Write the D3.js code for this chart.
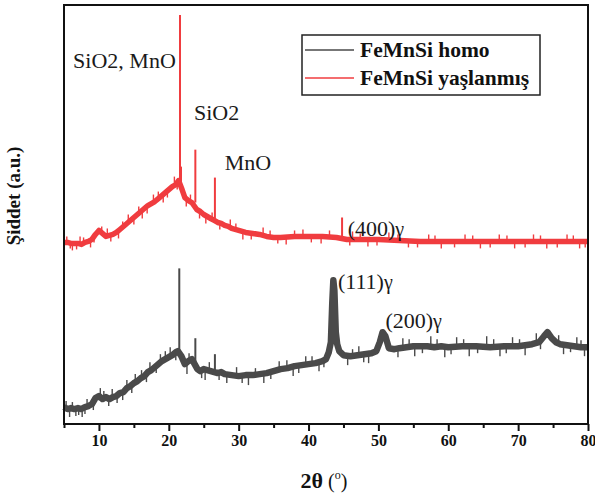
<!DOCTYPE html>
<html>
<head>
<meta charset="utf-8">
<script src="https://cdn.jsdelivr.net/npm/d3@7"></script>
<style>
  body { margin: 0; background: #fff; }
  svg { display: block; }
  text { font-family: "Liberation Serif", "Times New Roman", serif; }
</style>
</head>
<body>
<div id="chart"></div>
<script>
// XRD patterns, 2θ (deg) and intensity (a.u.)
const homoTheta = [5, 5.5, 6, 6.5, 7, 7.5, 8, 8.5, 9, 9.5, 10, 10.5, 11, 11.5, 12, 12.5, 13, 13.5, 14, 14.5,
  15, 15.5, 16, 16.5, 17, 17.5, 18, 18.5, 19, 19.5, 20, 20.5, 21, 21.3, 21.8, 22.3, 22.8, 23.3, 24.1, 24.5,
  25, 25.5, 26, 26.5, 27, 27.5, 28, 29, 30, 31, 32, 33, 34, 35, 36, 37, 38, 39, 40, 41,
  42, 42.5, 42.9, 43.2, 43.4, 43.55, 43.7, 43.9, 44.1, 44.4, 45, 46, 47, 48, 49, 49.7, 50.2, 50.6, 51.0, 51.5,
  52.3, 53, 54, 55, 56, 57, 58, 59, 60, 62, 64, 66, 68, 70, 72, 73, 73.7, 74.2, 74.8, 75.4,
  76, 77, 78, 79, 80];
const homoValue = [17, 15, 16, 15, 16, 15, 17, 18, 20, 26, 28, 25, 27, 25, 27, 28, 31, 32, 36, 38,
  41, 43, 46, 48, 52, 54, 57, 60, 63, 65, 67, 69, 72, 73, 68, 60, 63, 65, 55, 53,
  55, 54, 53, 52, 51, 52, 50, 49, 48, 49, 49, 50, 51, 53, 55, 56, 58, 59, 60, 61,
  63, 65, 72, 82, 122, 144, 134, 92, 80, 73, 69, 68, 69, 70, 71, 73, 82, 92, 88, 76,
  75, 76, 77, 78, 78, 78, 77, 78, 77, 78, 78, 77, 78, 78, 80, 82, 88, 92, 86, 82,
  80, 79, 78, 77, 77];

const agedTheta = [5, 5.5, 6, 6.5, 7, 7.5, 8, 8.5, 9, 9.5, 10, 10.5, 11, 11.5, 12, 12.5, 13, 13.5, 14, 14.5,
  15, 15.5, 16, 16.5, 17, 17.5, 18, 18.5, 19, 19.5, 20, 20.5, 21, 21.4, 21.9, 22.3, 22.8, 23.3, 24.0, 24.5,
  25, 25.5, 26, 26.5, 27, 27.5, 28, 28.5, 29, 30, 31, 32, 33, 34, 35, 36, 38, 40, 42, 44,
  45.5, 47, 50, 53, 56, 60, 65, 70, 75, 80];
const agedValue = [182, 182, 181, 181, 181, 180, 182, 183, 185, 190, 194, 191, 188, 189, 190, 192, 195, 198, 201, 204,
  207, 210, 213, 216, 219, 221, 223, 226, 229, 232, 235, 238, 240, 244, 235, 227, 224, 222, 215, 213,
  210, 208, 206, 204, 202, 201, 199, 198, 196, 194, 192, 191, 190, 188, 187, 187, 188, 188, 188, 187,
  185, 185, 185, 184, 183, 183, 183, 183, 183, 183];

// sharp reflections: [2θ, foot, top]
const homoPeaks = [[21.5, 73, 156], [23.8, 62, 86], [26.6, 52, 70]];
const agedPeaks = [[21.6, 244, 410], [21.75, 238, 258], [23.8, 222, 275], [26.6, 204, 247], [44.8, 187, 207]];

// counting noise spikes seen on the traces: [2θ, from, to]
const homoNoise = [[5.3, 16, 23], [5.8, 15, 7], [6.2, 15, 22], [6.7, 16, 8], [7.1, 16, 9], [7.6, 15, 7],
  [8.0, 17, 10], [8.3, 17, 25], [9.2, 21, 14], [10.2, 28, 36], [10.7, 25, 33], [11.4, 25, 18],
  [11.9, 27, 35], [12.6, 28, 21], [13.4, 32, 24], [14.0, 36, 44], [14.7, 38, 31], [15.2, 41, 50],
  [16.1, 46, 54], [16.8, 49, 42], [17.3, 53, 62], [18.2, 58, 51], [18.8, 61, 70], [19.5, 65, 73],
  [20.2, 68, 77], [21.0, 72, 64], [22.6, 60, 50], [22.9, 63, 71], [24.7, 53, 46], [25.2, 54, 44],
  [25.8, 54, 62], [27.2, 52, 44], [28.3, 50, 41], [29.7, 48, 57], [30.5, 48, 41], [31.4, 48, 39],
  [32.4, 49, 56], [33.6, 50, 41], [34.6, 52, 45], [35.8, 54, 63], [36.9, 56, 64], [37.8, 57, 48],
  [38.6, 58, 51], [39.6, 59, 68], [40.5, 60, 68], [41.5, 62, 53], [42.2, 64, 57], [45.6, 68, 59],
  [46.3, 68, 75], [47.2, 69, 78], [47.9, 70, 62], [48.6, 70, 61], [52.8, 75, 67], [53.5, 76, 86],
  [54.4, 77, 85], [55.2, 78, 68], [56.3, 78, 71], [57.5, 78, 88], [58.4, 78, 85], [59.5, 77, 67],
  [60.4, 77, 70], [61.2, 78, 87], [62.2, 78, 85], [63.0, 78, 68], [64.2, 78, 71], [65.5, 78, 88],
  [66.5, 78, 85], [67.4, 78, 68], [68.3, 78, 71], [69.2, 78, 87], [70.2, 78, 85], [71.0, 79, 69],
  [72.6, 81, 91], [73.2, 83, 75], [75.8, 82, 89], [76.5, 80, 70], [77.5, 79, 72], [78.4, 78, 87],
  [79.0, 77, 84], [79.5, 77, 68]];
const agedNoise = [[5.4, 182, 188], [5.9, 182, 176], [6.2, 181, 174], [6.8, 181, 175], [7.3, 181, 188],
  [7.8, 181, 187], [8.8, 184, 177], [9.3, 188, 182], [10.4, 192, 198], [11.2, 188, 196], [11.7, 189, 183],
  [12.8, 194, 186], [13.4, 197, 203], [14.2, 202, 210], [15.0, 207, 200], [15.7, 211, 218], [16.2, 214, 206],
  [16.9, 218, 211], [17.8, 222, 230], [18.5, 226, 233], [19.2, 230, 222], [19.8, 234, 227], [20.8, 239, 248],
  [21.2, 242, 235], [22.5, 226, 218], [23.1, 223, 230], [24.4, 213, 206], [25.3, 209, 201], [26.2, 205, 212],
  [27.3, 201, 195], [28.8, 197, 205], [29.6, 195, 201], [30.6, 193, 185], [31.8, 191, 185], [33.5, 189, 197],
  [34.5, 188, 194], [35.6, 187, 181], [36.8, 187, 180], [38.0, 188, 194], [39.2, 188, 195], [40.4, 188, 182],
  [41.8, 188, 181], [43.0, 188, 194], [45.9, 185, 179], [46.3, 185, 193], [47.4, 185, 191], [48.5, 185, 178],
  [49.8, 185, 179], [51.5, 185, 192], [52.8, 184, 190], [54.3, 184, 177], [55.6, 183, 177], [57.2, 183, 190],
  [58.1, 183, 189], [59.0, 183, 176], [60.9, 183, 177], [62.4, 183, 190], [63.5, 183, 189], [64.6, 183, 176],
  [66.0, 183, 177], [67.3, 183, 190], [68.4, 183, 189], [69.5, 183, 176], [71.0, 183, 177], [72.2, 183, 190],
  [73.2, 183, 189], [74.1, 183, 176], [75.6, 183, 177], [77.0, 183, 190], [77.9, 183, 189], [78.8, 183, 176],
  [79.6, 183, 177]];

const labels = [
  { text: 'SiO2, MnO', theta: 6.3, value: 357 },
  { text: 'SiO2', theta: 23.6, value: 305 },
  { text: 'MnO', theta: 28.0, value: 255 },
  { text: '(400)', theta: 45.6, value: 188, gamma: true },
  { text: '(111)', theta: 44.2, value: 135, gamma: true },
  { text: '(200)', theta: 51.0, value: 96, gamma: true },
];

const xTicks = [10, 20, 30, 40, 50, 60, 70, 80];
const xMinorTicks = [5, 15, 25, 35, 45, 55, 65, 75];

const GREY = '#4a4a4a';
const RED = '#f03c3f';

const width = 595, height = 501;
const margins = { left: 64, right: 7, top: 5, bottom: 77 };

const svg = d3.select('#chart')
  .append('svg')
    .attr('width', width)
    .attr('height', height);

const x = d3.scaleLinear()
  .domain([5, 80])
  .range([margins.left, width - margins.right]);

const y = d3.scaleLinear()
  .domain([0, 420])
  .range([height - margins.bottom, margins.top]);

const plot = svg.append('g');

const line = d3.line()
  .x(d => x(d[0]))
  .y(d => y(d[1]));

function sticks(data, color, w) {
  plot.selectAll(null)
    .data(data)
    .enter()
    .append('line')
      .attr('x1', d => x(d[0]))
      .attr('x2', d => x(d[0]))
      .attr('y1', d => y(d[1]))
      .attr('y2', d => y(d[2]))
      .attr('stroke', color)
      .attr('stroke-width', w);
}

function drawSeries(thetas, values, peaks, noise, color, w) {
  const pts = thetas.map((t, i) => [t, values[i]]);
  plot.append('path')
    .datum(pts)
    .attr('fill', 'none')
    .attr('stroke', color)
    .attr('stroke-width', w)
    .attr('stroke-linejoin', 'round')
    .attr('d', line);

  sticks(noise, color, 1.4);
  sticks(peaks, color, 2);
}

drawSeries(homoTheta, homoValue, homoPeaks, homoNoise, GREY, 6.5);
drawSeries(agedTheta, agedValue, agedPeaks, agedNoise, RED, 5.5);

// frame
svg.append('rect')
  .attr('x', x(5))
  .attr('y', y(420))
  .attr('width', x(80) - x(5))
  .attr('height', y(0) - y(420))
  .attr('fill', 'none')
  .attr('stroke', '#111')
  .attr('stroke-width', 2);

const xAxis = d3.axisBottom(x)
  .tickValues(xTicks)
  .tickSize(7)
  .tickPadding(4)
  .tickFormat(d3.format('d'));

const gx = svg.append('g')
  .attr('transform', 'translate(0,' + y(0) + ')')
  .call(xAxis);
gx.select('.domain').remove();
gx.selectAll('line').attr('stroke', '#111').attr('stroke-width', 2);
gx.selectAll('text')
  .attr('fill', '#111')
  .style('font-family', '"Liberation Serif", serif')
  .style('font-size', '16px')
  .style('font-weight', 'bold');

const gxm = svg.append('g')
  .attr('transform', 'translate(0,' + y(0) + ')')
  .call(d3.axisBottom(x).tickValues(xMinorTicks).tickSize(4).tickFormat(''));
gxm.select('.domain').remove();
gxm.selectAll('line').attr('stroke', '#111').attr('stroke-width', 2);

// annotations
const ann = svg.append('g');
labels.forEach(l => {
  const t = ann.append('text')
    .attr('x', x(l.theta))
    .attr('y', y(l.value))
    .attr('fill', '#1a1a1a')
    .style('font-size', '22px');
  t.append('tspan').text(l.text);
  if (l.gamma) t.append('tspan').text('γ').style('font-size', '20px');
});

// axis titles
const xt = svg.append('text')
  .attr('x', (x(5) + x(80)) / 2 - 2)
  .attr('y', 488)
  .attr('text-anchor', 'middle')
  .attr('fill', '#111');
xt.append('tspan').text('2θ').style('font-size', '22px').style('font-weight', 'bold');
xt.append('tspan').text(' (').style('font-size', '20px');
xt.append('tspan').text('o').style('font-size', '12px').attr('dy', -9);
xt.append('tspan').text(')').style('font-size', '20px').attr('dy', 9);

svg.append('text')
  .attr('transform', 'translate(20,' + 196 + ') rotate(-90)')
  .attr('text-anchor', 'middle')
  .attr('fill', '#111')
  .style('font-size', '19px')
  .style('font-weight', 'bold')
  .text('Şiddet (a.u.)');

// legend
const legendItems = [
  { name: 'FeMnSi homo', color: GREY },
  { name: 'FeMnSi yaşlanmış', color: RED },
];
const legend = svg.append('g').attr('transform', 'translate(302,35)');
legend.append('rect')
  .attr('width', 238)
  .attr('height', 60)
  .attr('fill', '#fff')
  .attr('stroke', '#222')
  .attr('stroke-width', 1.5);
const li = legend.selectAll('g.item')
  .data(legendItems)
  .enter()
  .append('g')
    .attr('class', 'item')
    .attr('transform', (d, i) => 'translate(0,' + (15 + i * 28) + ')');
li.append('line')
  .attr('x1', 3).attr('x2', 52)
  .attr('stroke', d => d.color)
  .attr('stroke-width', 1.5);
li.append('text')
  .attr('x', 58)
  .attr('y', 7)
  .attr('fill', '#111')
  .style('font-size', '21.5px')
  .style('font-weight', 'bold')
  .text(d => d.name);
</script>
</body>
</html>
